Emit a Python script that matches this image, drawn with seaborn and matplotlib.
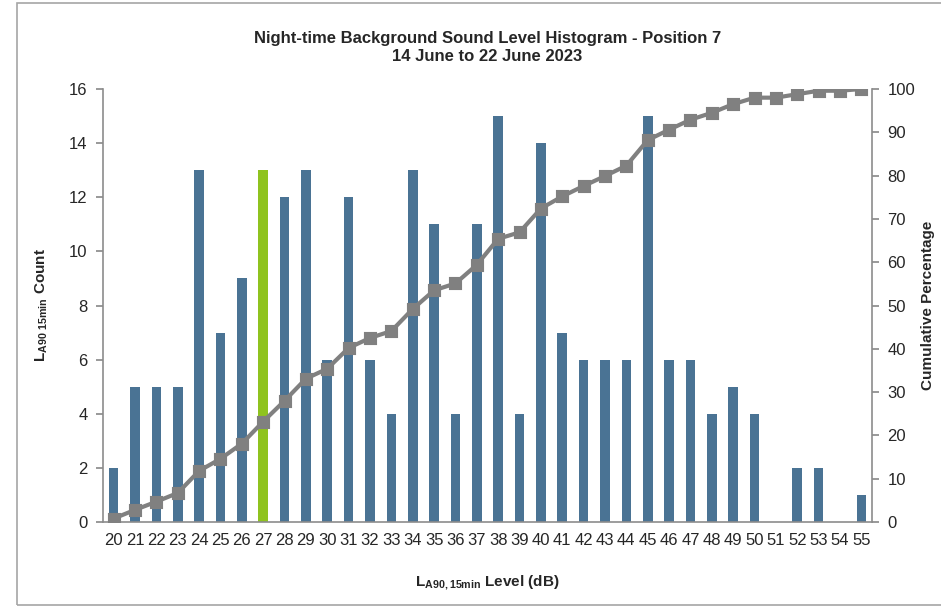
import matplotlib

matplotlib.use("Agg")
import matplotlib.pyplot as plt
import numpy as np
import pandas as pd
import seaborn as sns
from matplotlib.patches import Rectangle

# 騒音レベル (dB) ごとの件数
levels = [str(v) for v in range(20, 56)]
counts = [2, 5, 5, 5, 13, 7, 9, 13, 12, 13, 6, 12, 6, 4, 13, 11, 4, 11,
          15, 4, 14, 7, 6, 6, 6, 15, 6, 6, 4, 5, 4, 0, 2, 2, 0, 1]
cumulative = [0.8, 2.8, 4.7, 6.7, 11.8, 14.6, 18.1, 23.2, 28.0, 33.1, 35.4,
              40.2, 42.5, 44.1, 49.2, 53.5, 55.1, 59.4, 65.4, 66.9, 72.4,
              75.2, 77.6, 79.9, 82.3, 88.2, 90.6, 92.9, 94.5, 96.5, 98.0,
              98.0, 98.8, 99.6, 99.6, 100.0]
highlight_level = "27"

BLUE = "#4a7394"
GREEN = "#8fc31f"
GREY = "#808080"
AXIS_GREY = "#8c8c8c"

df = pd.DataFrame({"level": levels, "count": counts, "cum": cumulative})

sns.set_theme(style="white")
plt.rcParams["font.family"] = ["Liberation Sans", "DejaVu Sans"]
plt.rcParams["mathtext.fontset"] = "custom"
plt.rcParams["mathtext.rm"] = "Liberation Sans"
plt.rcParams["mathtext.bf"] = "Liberation Sans:bold"

fig = plt.figure(figsize=(9.41, 6.07), dpi=100)
ax = fig.add_axes([103 / 941, 1 - 522 / 607, (872 - 103) / 941, (522 - 89) / 607])

palette = {lv: (GREEN if lv == highlight_level else BLUE) for lv in levels}
sns.barplot(data=df, x="level", y="count", hue="level", palette=palette,
            width=0.45, legend=False, saturation=1, linewidth=0, ax=ax)

ax2 = ax.twinx()
sns.pointplot(data=df, x="level", y="cum", color=GREY, markers="s",
              markersize=7, linewidth=3, ax=ax2)

ax.set_xlim(-0.5, len(levels) - 0.5)
ax.set_ylim(0, 16)
ax.set_yticks(range(0, 17, 2))
ax2.set_ylim(0, 100)
ax2.set_yticks(range(0, 101, 10))

# Excel風の目盛り（カテゴリ境界）
ax.set_xticks(np.arange(-0.5, len(levels)), minor=True)
ax.tick_params(axis="x", which="major", length=0, labelsize=12, pad=8)
ax.tick_params(axis="x", which="minor", length=5, color=AXIS_GREY, direction="out")
ax.tick_params(axis="y", length=5, color=AXIS_GREY, direction="out", labelsize=12, pad=6)
ax2.tick_params(axis="y", length=5, color=AXIS_GREY, direction="out", labelsize=12, pad=6)

for a in (ax, ax2):
    a.spines["top"].set_visible(False)
    for s in ("left", "right", "bottom"):
        a.spines[s].set_color(AXIS_GREY)
        a.spines[s].set_linewidth(1.2)
ax.spines["right"].set_visible(False)
ax2.spines["left"].set_visible(False)
ax2.spines["bottom"].set_visible(False)

ax.set_xlabel(r"L$_{\mathbf{A90,15min}}$ Level (dB)", fontsize=11,
              fontweight="bold", labelpad=18)
ax.set_ylabel(r"L$_{\mathbf{A90\ 15min}}$ Count", fontsize=11,
              fontweight="bold", labelpad=14)
ax2.set_ylabel("Cumulative Percentage", fontsize=11, fontweight="bold", labelpad=4)
ax2.set_xlabel("")

ax.set_title("Night-time Background Sound Level Histogram - Position 7\n"
             "14 June to 22 June 2023", fontsize=12, fontweight="bold",
             pad=20, linespacing=1.3)

fig.patches.append(Rectangle((17 / 941, 2 / 607), 1.0, 1 - 5 / 607,
                             transform=fig.transFigure, fill=False,
                             edgecolor="#a6a6a6", linewidth=1.2))

fig.savefig("out.png", dpi=100)
